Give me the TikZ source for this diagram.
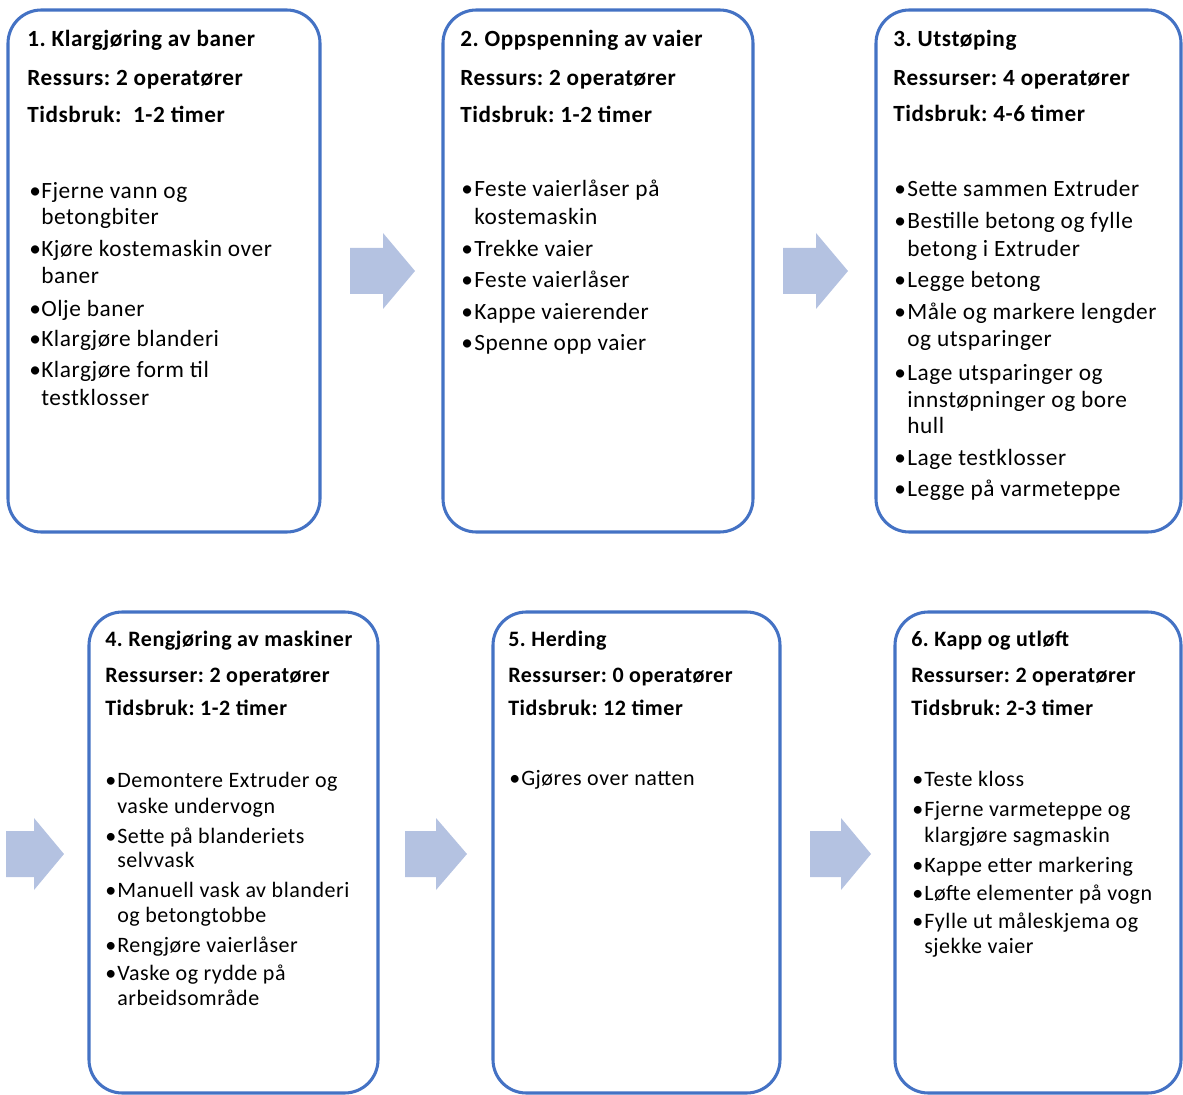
\documentclass[tikz,border=0pt]{standalone}
\usepackage{fontspec}
\setmainfont{Carlito}[LetterSpace=2.5]
\frenchspacing
\begin{document}
\begin{tikzpicture}[x=0.75pt,y=-0.75pt,
  stepbox/.style={draw=boxblue,line width=2.3pt,rounded corners=25pt,fill=white,inner sep=0pt},
  head/.style={anchor=base west,inner sep=0pt,font=\bfseries\fontsize{17.4}{20}\selectfont},
  txt/.style={anchor=base west,inner sep=0pt,font=\fontsize{17.5}{20}\selectfont},
  bul/.style={txt},
  headlow/.style={anchor=base west,inner sep=0pt,font=\bfseries\fontsize{16.5}{20}\selectfont},
  txtlow/.style={anchor=base west,inner sep=0pt,font=\fontsize{16.5}{20}\selectfont},
  bullow/.style={txtlow},
  flow/.style={fill=arrowblue,draw=none}]
\definecolor{boxblue}{RGB}{68,114,196}
\definecolor{arrowblue}{RGB}{180,194,225}
\useasboundingbox (0,0) rectangle (1183,1095);

% ---------- boxes ----------
\node[stepbox,minimum width=234pt,minimum height=391.5pt] (s1) at (164,271) {};
\node[stepbox,minimum width=232.5pt,minimum height=391.5pt] (s2) at (598,271) {};
\node[stepbox,minimum width=228.75pt,minimum height=391.5pt] (s3) at (1028.5,271) {};
\node[stepbox,minimum width=216.75pt,minimum height=360.75pt] (s4) at (233.5,852.5) {};
\node[stepbox,minimum width=215.25pt,minimum height=360.75pt] (s5) at (636.5,852.5) {};
\node[stepbox,minimum width=214.5pt,minimum height=360.75pt] (s6) at (1038,852.5) {};

% ---------- block arrows between the steps ----------
\fill[flow] (350,248) -- (383,248) -- (383,233) -- (415,271) -- (383,309) -- (383,294) -- (350,294) -- cycle;
\fill[flow] (783,248) -- (816,248) -- (816,233) -- (848,271) -- (816,309) -- (816,294) -- (783,294) -- cycle;
\fill[flow] (6,831) -- (34,831) -- (34,818) -- (64,854) -- (34,890) -- (34,877) -- (6,877) -- cycle;
\fill[flow] (405,831) -- (436,831) -- (436,818) -- (467,854) -- (436,890) -- (436,877) -- (405,877) -- cycle;
\fill[flow] (810,831) -- (841,831) -- (841,818) -- (871,854) -- (841,890) -- (841,877) -- (810,877) -- cycle;

% ---------- step 1 ----------
\node[head] (t1a) at (27,47) {1. Klargjøring av baner};
\node[head] (t1b) at (27,86) {Ressurs: 2 operatører};
\node[head] (t1c) at (27,123) {Tidsbruk:\ \ 1-2 timer};
\node[bul] (p1a) at (29,199) {•};
\node[txt] (l1a) at (41,199) {Fjerne vann og};
\node[txt] (l1b) at (41,225) {betongbiter};
\node[bul] (p1b) at (29,257) {•};
\node[txt] (l1c) at (41,257) {Kjøre kostemaskin over};
\node[txt] (l1d) at (41,284) {baner};
\node[bul] (p1c) at (29,316) {•};
\node[txt] (l1e) at (41,316) {Olje baner};
\node[bul] (p1d) at (29,347) {•};
\node[txt] (l1f) at (41,347) {Klargjøre blanderi};
\node[bul] (p1e) at (29,378) {•};
\node[txt] (l1g) at (41,378) {Klargjøre form til};
\node[txt] (l1h) at (41,405) {testklosser};

% ---------- step 2 ----------
\node[head] (t2a) at (460,47) {2. Oppspenning av vaier};
\node[head] (t2b) at (460,86) {Ressurs: 2 operatører};
\node[head] (t2c) at (460,123) {Tidsbruk: 1-2 timer};
\node[bul] (p2a) at (461,197) {•};
\node[txt] (l2a) at (474,197) {Feste vaierlåser på};
\node[txt] (l2b) at (474,225) {kostemaskin};
\node[bul] (p2b) at (461,257) {•};
\node[txt] (l2c) at (474,257) {Trekke vaier};
\node[bul] (p2c) at (461,288) {•};
\node[txt] (l2d) at (474,288) {Feste vaierlåser};
\node[bul] (p2d) at (461,320) {•};
\node[txt] (l2e) at (474,320) {Kappe vaierender};
\node[bul] (p2e) at (461,350) {•};
\node[txt] (l2f) at (474,350) {Spenne opp vaier};

% ---------- step 3 ----------
\node[head] (t3a) at (893,47) {3. Utstøping};
\node[head] (t3b) at (893,86) {Ressurser: 4 operatører};
\node[head] (t3c) at (893,122) {Tidsbruk: 4-6 timer};
\node[bul] (p3a) at (894,197) {•};
\node[txt] (l3a) at (907,197) {Sette sammen Extruder};
\node[bul] (p3b) at (894,229) {•};
\node[txt] (l3b) at (907,229) {Bestille betong og fylle};
\node[txt] (l3c) at (907,257) {betong i Extruder};
\node[bul] (p3c) at (894,288) {•};
\node[txt] (l3d) at (907,288) {Legge betong};
\node[bul] (p3d) at (894,320) {•};
\node[txt] (l3e) at (907,320) {Måle og markere lengder};
\node[txt] (l3f) at (907,347) {og utsparinger};
\node[bul] (p3e) at (894,380) {•};
\node[txt] (l3g) at (907,380) {Lage utsparinger og};
\node[txt] (l3h) at (907,407) {innstøpninger og bore};
\node[txt] (l3i) at (907,433) {hull};
\node[bul] (p3f) at (894,465) {•};
\node[txt] (l3j) at (907,465) {Lage testklosser};
\node[bul] (p3g) at (894,496) {•};
\node[txt] (l3k) at (907,496) {Legge på varmeteppe};

% ---------- step 4 ----------
\node[headlow] (t4a) at (105,646) {4. Rengjøring av maskiner};
\node[headlow] (t4b) at (105,682) {Ressurser: 2 operatører};
\node[headlow] (t4c) at (105,715) {Tidsbruk: 1-2 timer};
\node[bullow] (p4a) at (105,787) {•};
\node[txtlow] (l4a) at (117,787) {Demontere Extruder og};
\node[txtlow] (l4b) at (117,813) {vaske undervogn};
\node[bullow] (p4b) at (105,843) {•};
\node[txtlow] (l4c) at (117,843) {Sette på blanderiets};
\node[txtlow] (l4d) at (117,867) {selvvask};
\node[bullow] (p4c) at (105,897) {•};
\node[txtlow] (l4e) at (117,897) {Manuell vask av blanderi};
\node[txtlow] (l4f) at (117,922) {og betongtobbe};
\node[bullow] (p4d) at (105,952) {•};
\node[txtlow] (l4g) at (117,952) {Rengjøre vaierlåser};
\node[bullow] (p4e) at (105,980) {•};
\node[txtlow] (l4h) at (117,980) {Vaske og rydde på};
\node[txtlow] (l4i) at (117,1005) {arbeidsområde};

% ---------- step 5 ----------
\node[headlow] (t5a) at (508,646) {5. Herding};
\node[headlow] (t5b) at (508,682) {Ressurser: 0 operatører};
\node[headlow] (t5c) at (508,715) {Tidsbruk: 12 timer};
\node[bullow] (p5a) at (509,785) {•};
\node[txtlow] (l5a) at (521,785) {Gjøres over natten};

% ---------- step 6 ----------
\node[headlow] (t6a) at (911,646) {6. Kapp og utløft};
\node[headlow] (t6b) at (911,682) {Ressurser: 2 operatører};
\node[headlow] (t6c) at (911,715) {Tidsbruk: 2-3 timer};
\node[bullow] (p6a) at (912,786) {•};
\node[txtlow] (l6a) at (924,786) {Teste kloss};
\node[bullow] (p6b) at (912,816) {•};
\node[txtlow] (l6b) at (924,816) {Fjerne varmeteppe og};
\node[txtlow] (l6c) at (924,842) {klargjøre sagmaskin};
\node[bullow] (p6c) at (912,872) {•};
\node[txtlow] (l6d) at (924,872) {Kappe etter markering};
\node[bullow] (p6d) at (912,900) {•};
\node[txtlow] (l6e) at (924,900) {Løfte elementer på vogn};
\node[bullow] (p6e) at (912,928) {•};
\node[txtlow] (l6f) at (924,928) {Fylle ut måleskjema og};
\node[txtlow] (l6g) at (924,953) {sjekke vaier};
\end{tikzpicture}
\end{document}
